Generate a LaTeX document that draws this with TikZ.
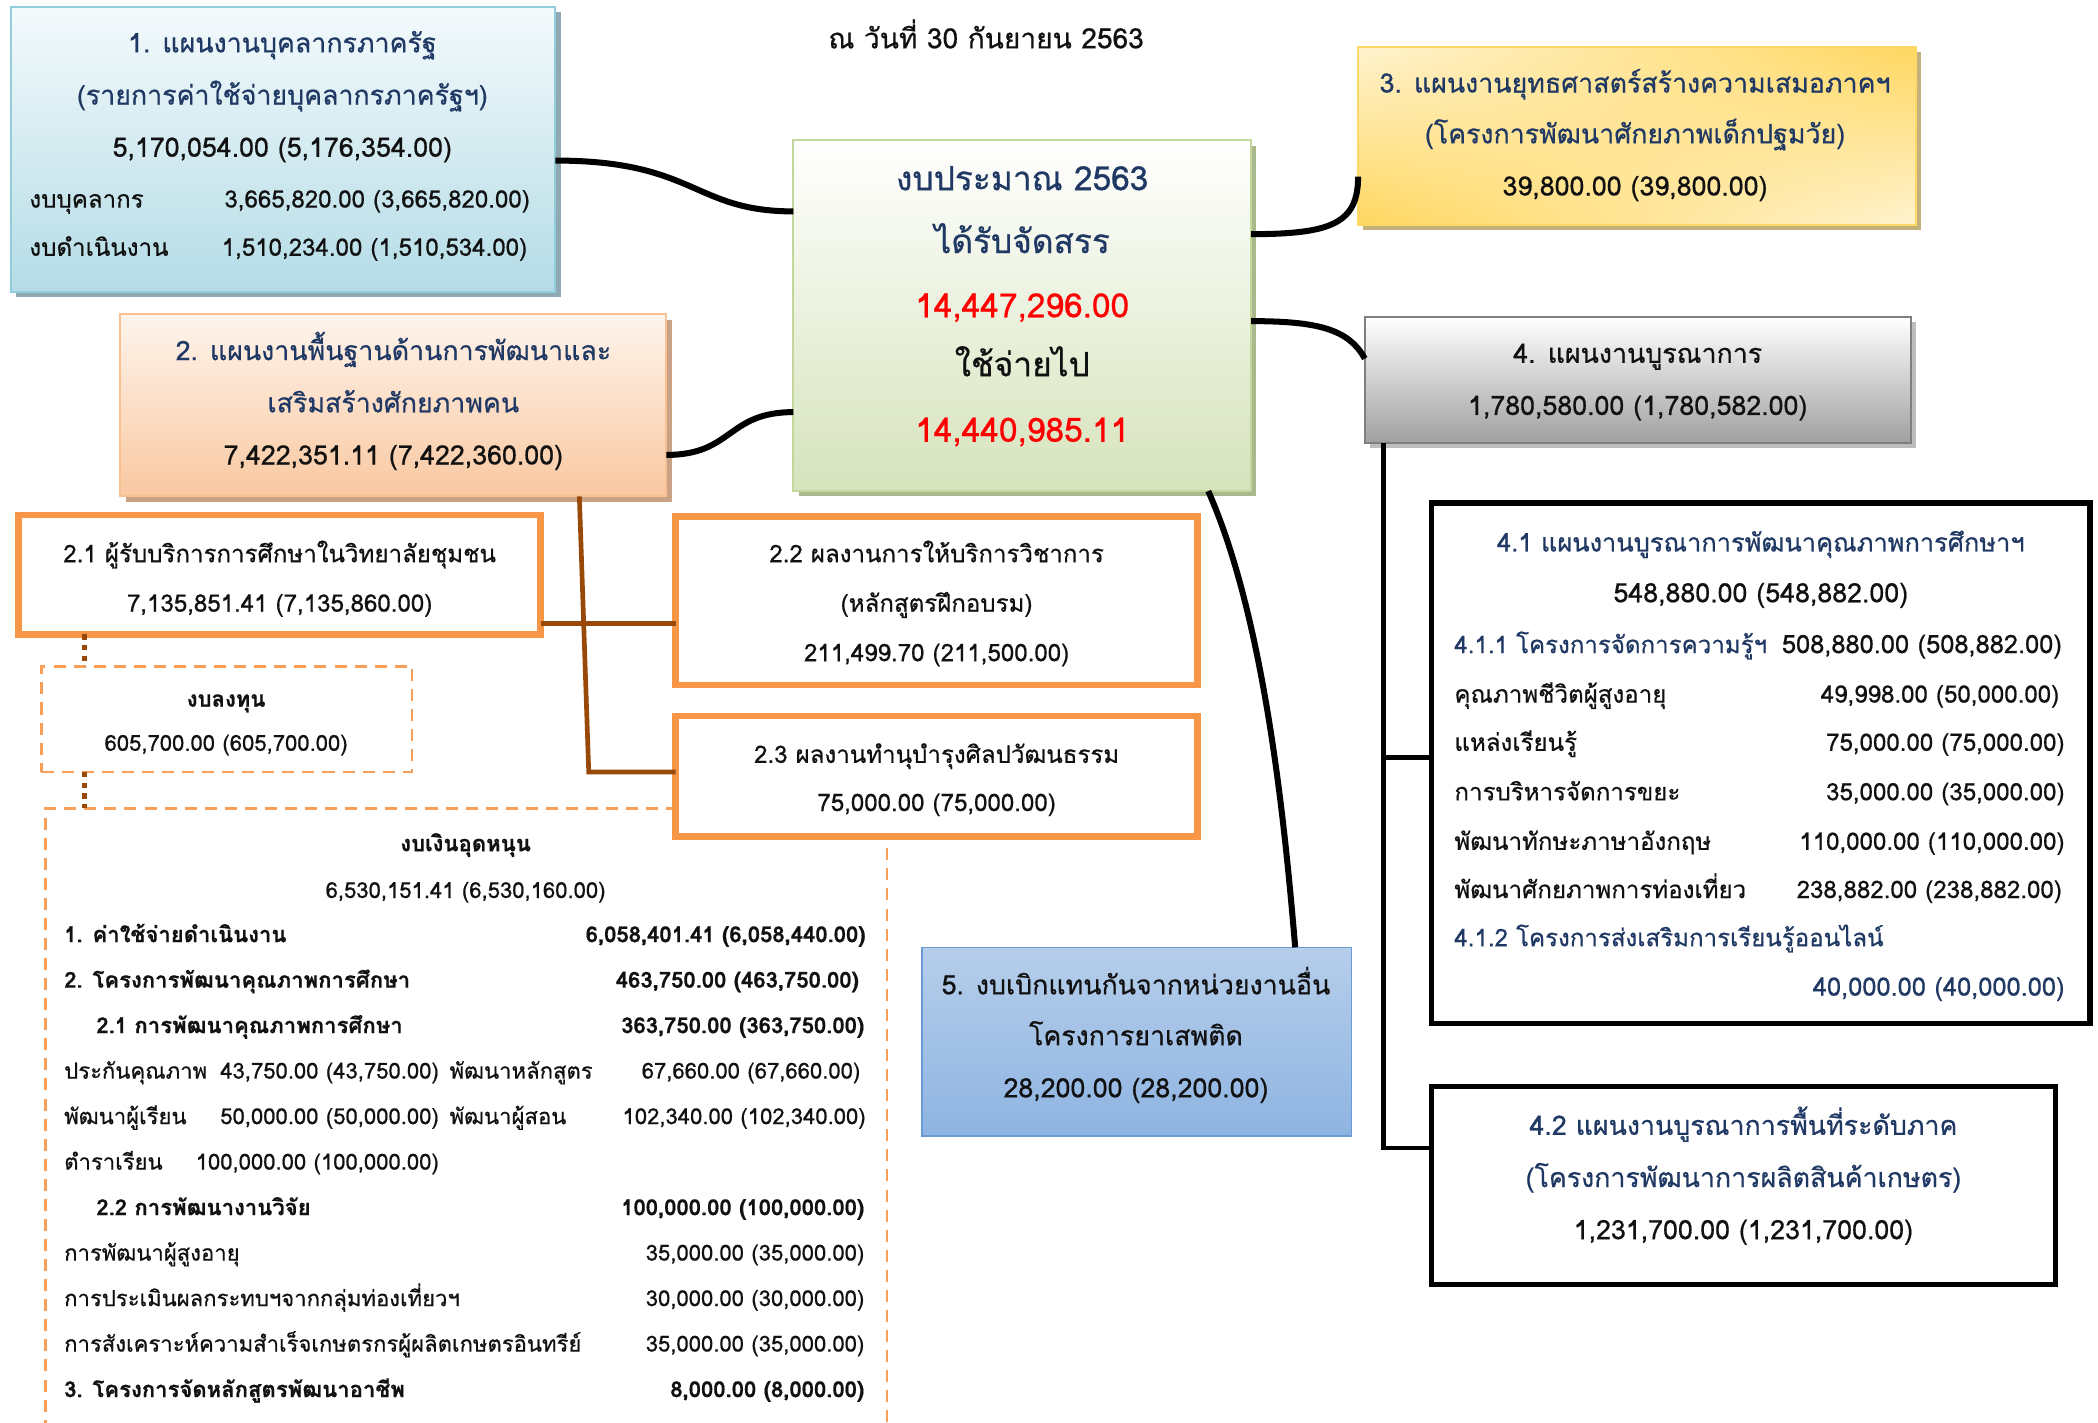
\documentclass[tikz,border=0pt]{standalone}
\usepackage{fontspec}
\newfontfamily\thai[Script=Thai,FakeBold=0.6]{Loma}
\usetikzlibrary{shadows,shadings}
\definecolor{navy}{HTML}{1F3864}
\definecolor{ink}{HTML}{111111}
\definecolor{redv}{HTML}{FF0000}
\definecolor{orng}{HTML}{F79646}
\definecolor{brn}{HTML}{984807}
\definecolor{bAline}{HTML}{92CDDC}\definecolor{bAtop}{HTML}{F4FAFC}\definecolor{bAbot}{HTML}{B4DCE6}\definecolor{bAsh}{HTML}{8EA9B2}
\definecolor{bBline}{HTML}{F9C091}\definecolor{bBtop}{HTML}{FEF4EC}\definecolor{bBbot}{HTML}{F9C8A0}\definecolor{bBsh}{HTML}{C9A285}
\definecolor{bCline}{HTML}{C3D69B}\definecolor{bCtop}{HTML}{FFFFFF}\definecolor{bCbot}{HTML}{D6E3BC}\definecolor{bCsh}{HTML}{A9B98C}
\definecolor{bDline}{HTML}{FFD966}\definecolor{bDlight}{HTML}{FFF3CF}\definecolor{bDdark}{HTML}{FFD760}\definecolor{bDsh}{HTML}{C4B07C}
\definecolor{bEline}{HTML}{7F7F7F}\definecolor{bEtop}{HTML}{FFFFFF}\definecolor{bEbot}{HTML}{A0A0A0}\definecolor{bEsh}{HTML}{BDBDBD}
\definecolor{bFline}{HTML}{6A9BD4}\definecolor{bFtop}{HTML}{B6CEEA}\definecolor{bFbot}{HTML}{8EB4E2}
\tikzset{
  base/.style={inner sep=0pt,outer sep=0pt},
  box/.style={base,anchor=north west},
  tbase/.style={base,yshift=-6pt},
  tx/.style={tbase,font=\thai\fontsize{20}{22}\selectfont,text=ink},
  tn/.style={tx,text=navy},
  ts/.style={tbase,font=\thai\fontsize{18}{20}\selectfont,text=ink},
  tsn/.style={ts,text=navy},
  tb/.style={tbase,font=\thai\fontsize{16.5}{18}\selectfont,text=ink},
  tbb/.style={tb,font=\thai\bfseries\fontsize{16.5}{18}\selectfont},
  tc/.style={tbase,font=\thai\fontsize{25}{28}\selectfont},
  blk/.style={draw=black,line width=4.5pt},
  blkl/.style={draw=black,line width=3.5pt},
  brnl/.style={draw=brn,line width=3.5pt},
  brdot/.style={draw=brn,line width=3.5pt,dash pattern=on 4pt off 4pt},
  orbox/.style={box,draw=orng,line width=5pt,fill=white},
  dashbox/.style={box,draw=orng!90,line width=2pt,dash pattern=on 9pt off 6pt},
  bkbox/.style={box,draw=black,line width=4pt,fill=white},
}
\begin{document}
\begin{tikzpicture}[x=1pt,y=-1pt]
\useasboundingbox (0,0) rectangle (1568,1063);
\clip (0,0) rectangle (1568,1063);

% ---------- boxes ----------
\node[box,minimum width=407pt,minimum height=213pt,draw=bAline,line width=1.5pt,top color=bAtop,bottom color=bAbot,
  drop shadow={shadow xshift=4pt,shadow yshift=-4pt,fill=bAsh,opacity=1}] (b1) at (8,5) {};
\node[box,minimum width=408pt,minimum height=136pt,draw=bBline,line width=1.5pt,top color=bBtop,bottom color=bBbot,
  drop shadow={shadow xshift=4pt,shadow yshift=-4pt,fill=bBsh,opacity=1}] (b2) at (90,235) {};
\node[box,minimum width=342pt,minimum height=262pt,draw=bCline,line width=1.5pt,top color=bCtop,bottom color=bCbot,
  drop shadow={shadow xshift=4pt,shadow yshift=-4pt,fill=bCsh,opacity=1}] (bc) at (593,105) {};
\node[box,minimum width=417pt,minimum height=133pt,draw=bDline,line width=1.5pt,
  upper left=bDlight,upper right=bDdark,lower left=bDdark,lower right=bDlight,
  drop shadow={shadow xshift=4pt,shadow yshift=-4pt,fill=bDsh,opacity=1}] (b3) at (1015,35) {};
\node[box,minimum width=408pt,minimum height=94pt,draw=bEline,line width=1.5pt,top color=bEtop,bottom color=bEbot,
  drop shadow={shadow xshift=4pt,shadow yshift=-4pt,fill=bEsh,opacity=1}] (b4) at (1020,237) {};
\node[bkbox,minimum width=492pt,minimum height=389pt] (b41) at (1070,376) {};
\node[bkbox,minimum width=466pt,minimum height=148pt] (b42) at (1070,812) {};
\node[box,minimum width=321pt,minimum height=141pt,draw=bFline,line width=1pt,top color=bFtop,bottom color=bFbot] (b5) at (689,708) {};
\node[orbox,minimum width=390pt,minimum height=89pt] (b21) at (14,385) {};
\node[orbox,minimum width=390pt,minimum height=126pt] (b22) at (505,386) {};
\node[dashbox,minimum width=277pt,minimum height=79pt] (bl) at (31,498) {};
\node[dashbox,minimum width=629pt,minimum height=520pt] (bu) at (34,604) {};
\node[orbox,minimum width=390pt,minimum height=90pt] (b23) at (505,535) {};

% ---------- connectors ----------
\draw[blk] ([yshift=-115pt]b1.north east) .. controls +(105,0) and +(-75,0) .. ([yshift=-53pt]bc.north west);
\draw[blk] ([yshift=-105pt]b2.north east) .. controls +(50,0) and +(-50,0) .. ([yshift=-203pt]bc.north west);
\draw[blk] ([yshift=-70pt]bc.north east) .. controls +(60,0) and +(0,35) .. ([yshift=-97pt]b3.north west);
\draw[blk] ([yshift=-135pt]bc.north east) .. controls +(50,0) and +(-12,-22) .. ([yshift=-31pt]b4.north west);
\draw[blk] ([xshift=-32pt]bc.south east) .. controls +(42,95) and +(-8,-95) .. ([xshift=-42pt]b5.north east);
\coordinate (k4) at ([xshift=14pt]b4.south west);
\draw[blkl] (k4) |- ([yshift=-46pt]b42.north west);
\draw[blkl] ([yshift=-190pt]b41.north west) -| (k4);
\coordinate (k2) at ([xshift=343pt]b2.south west);
\draw[brnl] (k2) -- ([xshift=-65pt,yshift=-42pt]b23.north west) -- ([yshift=-42pt]b23.north west);
\draw[brnl] ([yshift=-81pt]b21.north east) -- ([yshift=-80pt]b22.north west);
\draw[brdot] ([xshift=49pt]b21.south west) -- ([xshift=32pt]bl.north west);
\draw[brdot] ([xshift=32pt]bl.south west) -- ([xshift=29pt]bu.north west);

% ---------- header ----------
\node[tx,font=\thai\fontsize{21}{23}\selectfont,anchor=mid] (hd) at (737,28) {ณ วันที่ 30 กันยายน 2563};

% ---------- box 1 ----------
\node[tn,anchor=mid] (t1a) at (211,31) {1. แผนงานบุคลากรภาครัฐ};
\node[tn,anchor=mid] (t1b) at (211,70) {(รายการค่าใช้จ่ายบุคลากรภาครัฐฯ)};
\node[tx,anchor=mid] (t1c) at (211,109) {5,170,054.00 (5,176,354.00)};
\node[ts,anchor=mid west] (t1d) at (22,147) {งบบุคลากร};
\node[ts,anchor=mid east] (t1e) at (396,147) {3,665,820.00 (3,665,820.00)};
\node[ts,anchor=mid west] (t1f) at (22,183) {งบดำเนินงาน};
\node[ts,anchor=mid east] (t1g) at (394,183) {1,510,234.00 (1,510,534.00)};

% ---------- box 2 ----------
\node[tn,anchor=mid] (t2a) at (294,261) {2. แผนงานพื้นฐานด้านการพัฒนาและ};
\node[tn,anchor=mid] (t2b) at (294,300) {เสริมสร้างศักยภาพคน};
\node[tx,anchor=mid] (t2c) at (294,339) {7,422,351.11 (7,422,360.00)};

% ---------- centre ----------
\node[tc,text=navy,anchor=mid] (tca) at (764,134) {งบประมาณ 2563};
\node[tc,text=navy,anchor=mid] (tcb) at (764,181) {ได้รับจัดสรร};
\node[tc,text=redv,anchor=mid] (tcc) at (764,229) {14,447,296.00};
\node[tc,text=ink,anchor=mid] (tcd) at (764,273) {ใช้จ่ายไป};
\node[tc,text=redv,anchor=mid] (tce) at (764,322) {14,440,985.11};

% ---------- box 3 ----------
\node[tn,anchor=mid] (t3a) at (1222,61) {3. แผนงานยุทธศาสตร์สร้างความเสมอภาคฯ};
\node[tn,anchor=mid] (t3b) at (1222,99) {(โครงการพัฒนาศักยภาพเด็กปฐมวัย)};
\node[tx,anchor=mid] (t3c) at (1222,138) {39,800.00 (39,800.00)};

% ---------- box 4 ----------
\node[tx,anchor=mid] (t4a) at (1224,263) {4. แผนงานบูรณาการ};
\node[tx,anchor=mid] (t4b) at (1224,302) {1,780,580.00 (1,780,582.00)};

% ---------- box 4.1 ----------
\node[tn,font=\thai\fontsize{19}{21}\selectfont,anchor=mid] (t41a) at (1316,404) {4.1 แผนงานบูรณาการพัฒนาคุณภาพการศึกษาฯ};
\node[tx,anchor=mid] (t41b) at (1316,442) {548,880.00 (548,882.00)};
\node[tsn,anchor=mid west] (t41c) at (1087,480) {4.1.1 โครงการจัดการความรู้ฯ};
\node[tx,font=\thai\fontsize{19}{21}\selectfont,anchor=mid east] (t41d) at (1541,480) {508,880.00 (508,882.00)};
\node[ts,anchor=mid west] (t41e) at (1087,517) {คุณภาพชีวิตผู้สูงอายุ};
\node[ts,anchor=mid east] (t41f) at (1539,517) {49,998.00 (50,000.00)};
\node[ts,anchor=mid west] (t41g) at (1087,553) {แหล่งเรียนรู้};
\node[ts,anchor=mid east] (t41h) at (1543,553) {75,000.00 (75,000.00)};
\node[ts,anchor=mid west] (t41i) at (1087,590) {การบริหารจัดการขยะ};
\node[ts,anchor=mid east] (t41j) at (1543,590) {35,000.00 (35,000.00)};
\node[ts,anchor=mid west] (t41k) at (1087,627) {พัฒนาทักษะภาษาอังกฤษ};
\node[ts,anchor=mid east] (t41l) at (1543,627) {110,000.00 (110,000.00)};
\node[ts,anchor=mid west] (t41m) at (1087,663) {พัฒนาศักยภาพการท่องเที่ยว};
\node[ts,anchor=mid east] (t41n) at (1541,663) {238,882.00 (238,882.00)};
\node[tsn,anchor=mid west] (t41o) at (1087,699) {4.1.2 โครงการส่งเสริมการเรียนรู้ออนไลน์};
\node[tn,font=\thai\fontsize{19}{21}\selectfont,anchor=mid east] (t41p) at (1543,736) {40,000.00 (40,000.00)};

% ---------- box 4.2 ----------
\node[tn,anchor=mid] (t42a) at (1303,840) {4.2 แผนงานบูรณาการพื้นที่ระดับภาค};
\node[tn,anchor=mid] (t42b) at (1303,879) {(โครงการพัฒนาการผลิตสินค้าเกษตร)};
\node[tx,anchor=mid] (t42c) at (1303,918) {1,231,700.00 (1,231,700.00)};

% ---------- box 5 ----------
\node[tx,anchor=mid] (t5a) at (849,735) {5. งบเบิกแทนกันจากหน่วยงานอื่น};
\node[tx,anchor=mid] (t5b) at (849,773) {โครงการยาเสพติด};
\node[tx,anchor=mid] (t5c) at (849,812) {28,200.00 (28,200.00)};

% ---------- box 2.1 / 2.2 / 2.3 ----------
\node[ts,anchor=mid] (t21a) at (209,412) {2.1 ผู้รับบริการการศึกษาในวิทยาลัยชุมชน};
\node[ts,anchor=mid] (t21b) at (209,449) {7,135,851.41 (7,135,860.00)};
\node[ts,anchor=mid] (t22a) at (700,412) {2.2 ผลงานการให้บริการวิชาการ};
\node[ts,anchor=mid] (t22b) at (700,449) {(หลักสูตรฝึกอบรม)};
\node[ts,anchor=mid] (t22c) at (700,486) {211,499.70 (211,500.00)};
\node[ts,anchor=mid] (t23a) at (700,562) {2.3 ผลงานทำนุบำรุงศิลปวัฒนธรรม};
\node[ts,anchor=mid] (t23b) at (700,598) {75,000.00 (75,000.00)};

% ---------- งบลงทุน ----------
\node[tbb,anchor=mid] (tla) at (169,520) {งบลงทุน};
\node[tb,anchor=mid] (tlb) at (169,553) {605,700.00 (605,700.00)};

% ---------- งบเงินอุดหนุน ----------
\node[tbb,anchor=mid] (tu0) at (348,628) {งบเงินอุดหนุน};
\node[tb,anchor=mid] (tu1) at (348,663) {6,530,151.41 (6,530,160.00)};
\node[tbb,anchor=mid west] (tu2) at (48,696) {1. ค่าใช้จ่ายดำเนินงาน};
\node[tbb,anchor=mid east] (tu3) at (647,696) {6,058,401.41 (6,058,440.00)};
\node[tbb,anchor=mid west] (tu4) at (48,730) {2. โครงการพัฒนาคุณภาพการศึกษา};
\node[tbb,anchor=mid east] (tu5) at (642,730) {463,750.00 (463,750.00)};
\node[tbb,anchor=mid west] (tu6) at (72,764) {2.1 การพัฒนาคุณภาพการศึกษา};
\node[tbb,anchor=mid east] (tu7) at (646,764) {363,750.00 (363,750.00)};
\node[tb,anchor=mid west] (tu8) at (48,798) {ประกันคุณภาพ};
\node[tb,anchor=mid east] (tu9) at (328,798) {43,750.00 (43,750.00)};
\node[tb,anchor=mid west] (tu10) at (336,798) {พัฒนาหลักสูตร};
\node[tb,anchor=mid east] (tu11) at (643,798) {67,660.00 (67,660.00)};
\node[tb,anchor=mid west] (tu12) at (48,832) {พัฒนาผู้เรียน};
\node[tb,anchor=mid east] (tu13) at (328,832) {50,000.00 (50,000.00)};
\node[tb,anchor=mid west] (tu14) at (336,832) {พัฒนาผู้สอน};
\node[tb,anchor=mid east] (tu15) at (647,832) {102,340.00 (102,340.00)};
\node[tb,anchor=mid west] (tu16) at (48,866) {ตำราเรียน};
\node[tb,anchor=mid east] (tu17) at (328,866) {100,000.00 (100,000.00)};
\node[tbb,anchor=mid west] (tu18) at (72,900) {2.2 การพัฒนางานวิจัย};
\node[tbb,anchor=mid east] (tu19) at (646,900) {100,000.00 (100,000.00)};
\node[tb,anchor=mid west] (tu20) at (48,934) {การพัฒนาผู้สูงอายุ};
\node[tb,anchor=mid east] (tu21) at (646,934) {35,000.00 (35,000.00)};
\node[tb,anchor=mid west] (tu22) at (48,968) {การประเมินผลกระทบฯจากกลุ่มท่องเที่ยวฯ};
\node[tb,anchor=mid east] (tu23) at (646,968) {30,000.00 (30,000.00)};
\node[tb,anchor=mid west] (tu24) at (48,1002) {การสังเคราะห์ความสำเร็จเกษตรกรผู้ผลิตเกษตรอินทรีย์};
\node[tb,anchor=mid east] (tu25) at (646,1002) {35,000.00 (35,000.00)};
\node[tbb,anchor=mid west] (tu26) at (48,1036) {3. โครงการจัดหลักสูตรพัฒนาอาชีพ};
\node[tbb,anchor=mid east] (tu27) at (646,1036) {8,000.00 (8,000.00)};
\end{tikzpicture}
\end{document}
